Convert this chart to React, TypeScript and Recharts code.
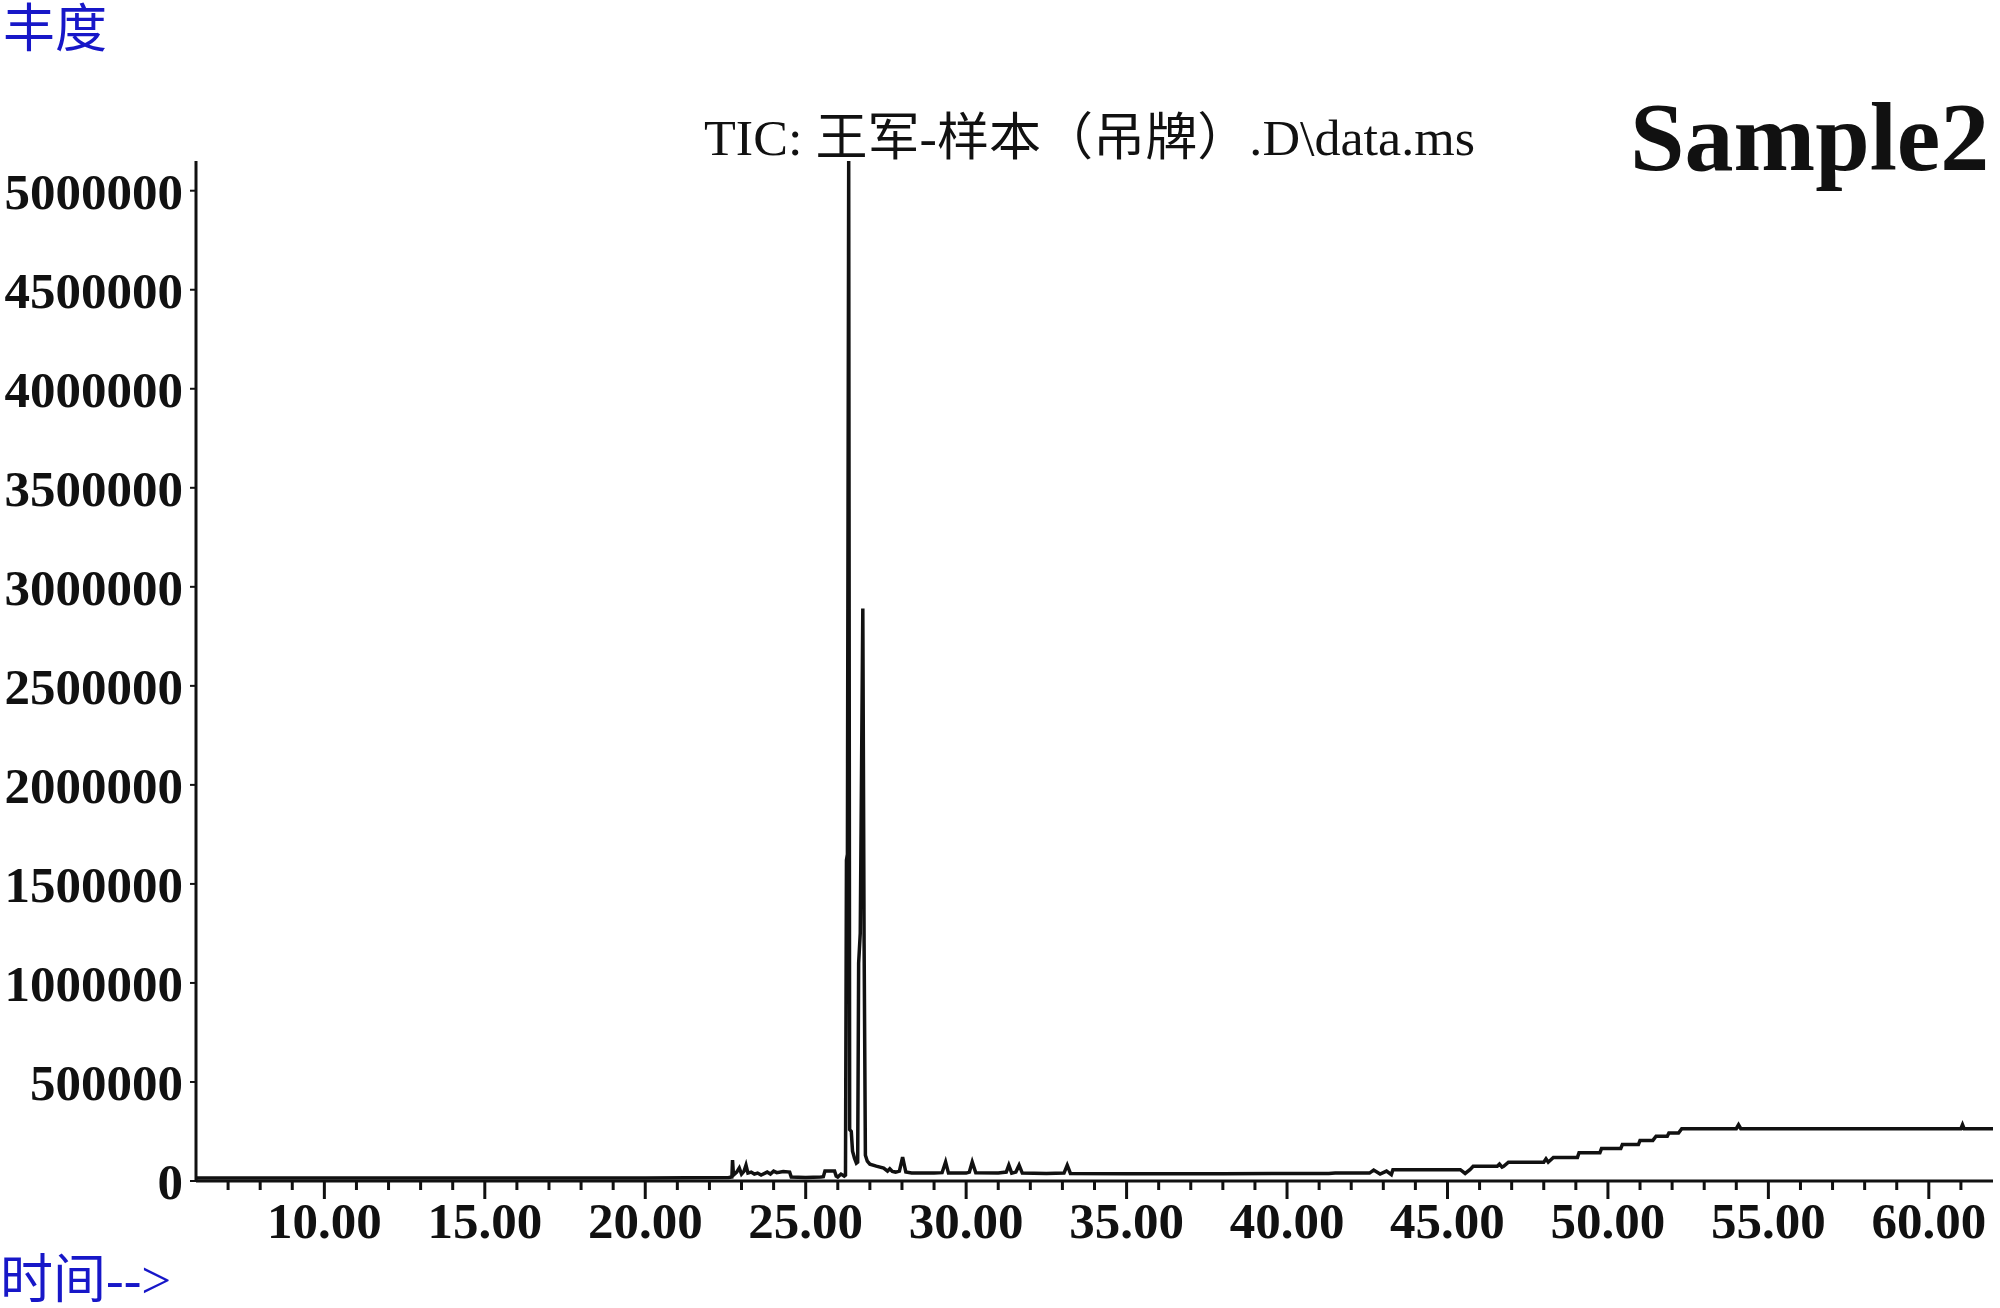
import { LineChart, Line, XAxis, YAxis } from 'recharts';

// retention time (min) / abundance
const earlyTimes = [6.0, 10.0, 15.0, 20.0, 22.6, 22.7, 22.72, 22.75, 22.85, 22.93, 23.0, 23.08, 23.14, 23.2, 23.3, 23.4, 23.5, 23.61, 23.8, 23.9, 24.0, 24.1, 24.3, 24.5, 24.55, 25.0, 25.47, 25.55, 25.6, 25.9, 25.95, 26.0, 26.1, 26.2];
const earlyAbund = [15000, 15000, 15000, 15000, 18000, 20000, 106000, 30000, 45000, 66000, 35000, 50000, 80000, 40000, 45000, 35000, 40000, 30000, 45000, 35000, 50000, 42000, 48000, 45000, 20000, 18000, 20000, 22000, 50000, 50000, 25000, 20000, 35000, 25000];

const peakTimes = [26.24, 26.27, 26.3, 26.34, 26.37, 26.42, 26.46, 26.52, 26.58, 26.62, 26.65, 26.7, 26.78, 26.82, 26.86, 26.92];
const peakAbund = [30000, 1620000, 1650000, 5150000, 260000, 250000, 150000, 115000, 90000, 95000, 1100000, 1250000, 2890000, 1200000, 130000, 100000];

const tailTimes = [27.0, 27.2, 27.43, 27.55, 27.62, 27.7, 27.8, 27.92, 28.02, 28.12, 28.3, 29.0, 29.25, 29.36, 29.45, 30.0, 30.1, 30.19, 30.3, 31.0, 31.25, 31.33, 31.42, 31.55, 31.65, 31.75, 32.5, 33.05, 33.15, 33.25, 35.0, 38.0, 41.3];
const tailAbund = [85000, 75000, 65000, 50000, 62000, 48000, 45000, 50000, 120000, 45000, 40000, 40000, 42000, 96000, 40000, 40000, 45000, 96000, 42000, 40000, 45000, 80000, 40000, 45000, 80000, 40000, 38000, 40000, 80000, 38000, 36000, 37000, 38000];

const rampTimes = [41.5, 42.57, 42.7, 42.9, 43.1, 43.25, 43.3, 44.5, 45.4, 45.55, 45.7, 45.8, 46.55, 46.62, 46.7, 46.75, 46.9, 48.0, 48.07, 48.14, 48.3, 49.05, 49.1, 49.75, 49.8, 50.4, 50.45, 50.95, 51.0, 51.4, 51.5, 51.85, 51.9, 52.2, 52.3, 54.0, 54.07, 54.14, 61.0, 61.05, 61.1, 62.0];
const rampAbund = [40000, 40000, 55000, 35000, 50000, 32000, 57000, 57000, 57000, 38000, 57000, 74000, 74000, 85000, 70000, 74000, 95000, 95000, 112000, 95000, 119000, 119000, 143000, 143000, 164000, 164000, 184000, 184000, 205000, 205000, 226000, 226000, 242000, 242000, 264000, 264000, 284000, 264000, 264000, 284000, 264000, 264000];

const minuteTicks = [7, 8, 9, 10, 11, 12, 13, 14, 15, 16, 17, 18, 19, 20, 21, 22, 23, 24, 25, 26, 27, 28, 29, 30, 31, 32, 33, 34, 35, 36, 37, 38, 39, 40, 41, 42, 43, 44, 45, 46, 47, 48, 49, 50, 51, 52, 53, 54, 55, 56, 57, 58, 59, 60, 61];
const abundTicks = [0, 500000, 1000000, 1500000, 2000000, 2500000, 3000000, 3500000, 4000000, 4500000, 5000000];

const toRows = (ts: number[], vs: number[]) => ts.map((t, i) => ({ t, v: vs[i] }));
const data = [
  ...toRows(earlyTimes, earlyAbund),
  ...toRows(peakTimes, peakAbund),
  ...toRows(tailTimes, tailAbund),
  ...toRows(rampTimes, rampAbund),
];

const serif = '"Liberation Serif", "Times New Roman", "Noto Sans CJK SC", serif';
const ink = '#111';
const blue = '#1717c8';

function TimeTick(props: any) {
  const { x, y, payload } = props;
  const major = Math.round(payload.value) % 5 === 0;
  return (
    <g>
      <line x1={x} y1={y} x2={x} y2={y + (major ? 18 : 9)} stroke={ink} strokeWidth={3} />
      {major && (
        <text x={x} y={y + 57} textAnchor="middle" fontSize={51} fontWeight="bold" fontFamily={serif} fill={ink}>
          {payload.value.toFixed(2)}
        </text>
      )}
    </g>
  );
}

export default function App() {
  return (
    <div style={{ position: 'absolute', left: 0, top: 0, width: 2000, height: 1308, background: '#fff' }}>
      <LineChart width={2000} height={1308} data={data} margin={{ top: 161, right: 7, bottom: 67, left: 0 }}>
        <XAxis
          dataKey="t"
          type="number"
          domain={[6, 62]}
          ticks={minuteTicks}
          interval={0}
          height={60}
          tickSize={0}
          tickMargin={0}
          tickLine={false}
          axisLine={{ stroke: ink, strokeWidth: 3 }}
          tick={<TimeTick />}
          allowDataOverflow
        />
        <YAxis
          type="number"
          domain={[0, 5150000]}
          ticks={abundTicks}
          interval={0}
          width={196}
          tickSize={6}
          tickMargin={7}
          tickLine={{ stroke: ink, strokeWidth: 2 }}
          axisLine={{ stroke: ink, strokeWidth: 3 }}
          tick={{ fontSize: 51, fontWeight: 'bold', fontFamily: serif, fill: ink }}
          allowDataOverflow
        />
        <Line type="linear" dataKey="v" stroke={ink} strokeWidth={3.5} dot={false} isAnimationActive={false} />
      </LineChart>
      <svg width={2000} height={1308} style={{ position: 'absolute', left: 0, top: 0, pointerEvents: 'none' }}>
        <text x={3} y={47} fontSize={52} fontFamily={serif} fill={blue}>丰度</text>
        <text x={0} y={1298} fontSize={53} fontFamily={serif} fill={blue}>时间--&gt;</text>
        <text x={704} y={155} fontSize={51} fontFamily={serif} fill={ink} textLength={771} lengthAdjust="spacingAndGlyphs">
          {'TIC: 王军-样本（吊牌）.D\\data.ms'}
        </text>
        <text x={1630} y={170} fontSize={98} fontWeight="bold" fontFamily={serif} fill={ink}>Sample2</text>
      </svg>
    </div>
  );
}
